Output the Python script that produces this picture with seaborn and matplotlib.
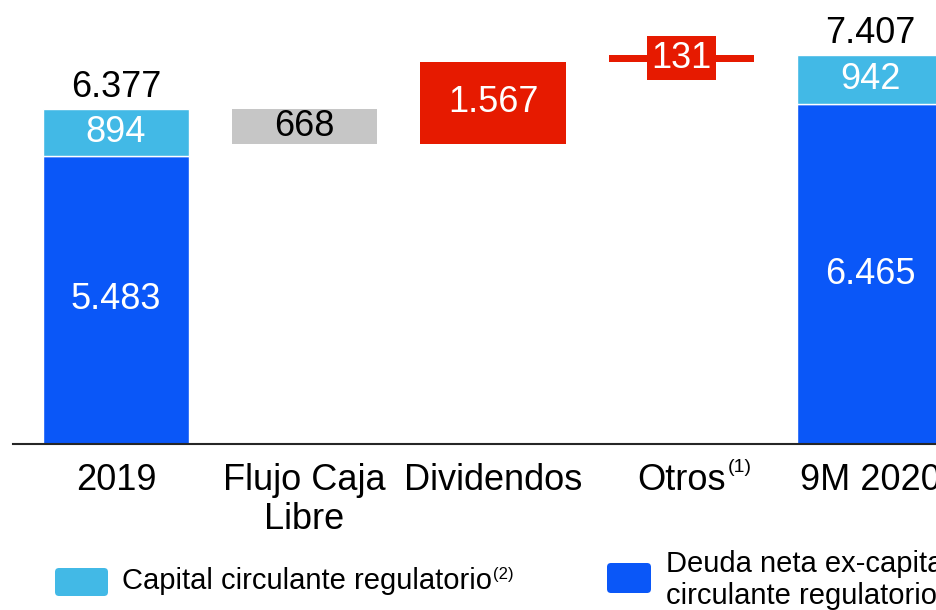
import matplotlib
matplotlib.use("Agg")
import matplotlib.pyplot as plt
import seaborn as sns
from matplotlib.patches import FancyBboxPatch
from matplotlib.transforms import IdentityTransform

# ---- data ----
categories = ["2019", "Flujo Caja\nLibre", "Dividendos", "Otros", "9M 2020"]
end_categories = ["2019", "9M 2020"]
deuda_ex_capital = [5483, 6465]
capital_circulante = [894, 942]
step_categories = ["Flujo Caja\nLibre", "Dividendos", "Otros"]
step_values = [-668, 1567, 131]
legend_labels = ["Capital circulante regulatorio", "Deuda neta ex-capital\ncirculante regulatorio"]

DARK = "#0A57F8"
LIGHT = "#42B9E6"
GREY = "#C6C6C6"
RED = "#E61A00"

def fmt(v):
    return f"{v:,}".replace(",", ".")

sns.set_theme(style="white")
plt.rcParams["font.family"] = ["Liberation Sans", "DejaVu Sans"]

W, H = 937, 610
fig = plt.figure(figsize=(W / 100, H / 100), dpi=100)
ax = fig.add_axes([13 / W, 166 / H, 924 / W, 444 / H])

BW = 0.77
common = dict(order=categories, saturation=1, width=BW, errorbar=None, ax=ax,
              edgecolor="white", linewidth=1)

# end bars (stacked)
for i, cat in enumerate(end_categories):
    sns.barplot(x=[cat], y=[deuda_ex_capital[i]], color=DARK, **common)
    sns.barplot(x=[cat], y=[capital_circulante[i]], bottom=deuda_ex_capital[i],
                color=LIGHT, **common)

# waterfall steps
running = deuda_ex_capital[0] + capital_circulante[0]
step_geom = []
for cat, v in zip(step_categories, step_values):
    bottom = min(running, running + v)
    height = abs(v)
    col = GREY if v < 0 else RED
    sns.barplot(x=[cat], y=[height], bottom=bottom, color=col,
                **{**common, "edgecolor": col, "linewidth": 0})
    step_geom.append((cat, bottom, height, v, col))
    running += v

ax.set_xlim(-0.5464, 4.3554)
ax.set_ylim(0, 8450)

FS = 26
# labels on end bars
for i, cat in enumerate(end_categories):
    x = categories.index(cat)
    d, c = deuda_ex_capital[i], capital_circulante[i]
    ax.text(x, d / 2, fmt(d), ha="center", va="center", color="white", fontsize=FS, zorder=5)
    ax.text(x, d + c / 2, fmt(c), ha="center", va="center", color="white", fontsize=FS, zorder=5)
    ax.annotate(fmt(d + c), xy=(x, d + c), xytext=(0, 3), textcoords="offset points",
                ha="center", va="bottom", color="black", fontsize=FS, zorder=5)

for cat, bottom, height, v, col in step_geom:
    x = categories.index(cat)
    txtcol = "black" if v < 0 else "white"
    kw = {}
    if height < 400:
        kw["bbox"] = dict(boxstyle="square,pad=0.12", fc=col, ec="none")
    ax.text(x, bottom + height / 2, fmt(abs(v)), ha="center", va="center",
            color=txtcol, fontsize=FS, zorder=5, **kw)

# axes styling
sns.despine(ax=ax, left=True)
ax.spines["bottom"].set_color("#262626")
ax.spines["bottom"].set_linewidth(1.5)
ax.spines["bottom"].set_zorder(6)
ax.set_yticks([])
ax.set_xlabel("")
ax.set_ylabel("")
ax.tick_params(axis="x", length=0, pad=13.5, labelsize=FS, colors="black")
for lbl in ax.get_xticklabels():
    lbl.set_linespacing(1.17)

# superscript on Otros
fig.canvas.draw()
lbl = ax.get_xticklabels()[categories.index("Otros")]
bb = lbl.get_window_extent()
fig.text((bb.x1 + 2) / W, (bb.y1 + 4) / H, "(1)", ha="left", va="top", fontsize=14, color="black")

# manual legend
LFS = 21
def box(x0, y0top, w, h, color):
    p = FancyBboxPatch((x0, H - y0top - h), w, h, boxstyle="round,pad=0,rounding_size=4",
                       fc=color, ec="none", transform=IdentityTransform())
    fig.add_artist(p)

box(55, 568, 53, 28, LIGHT)
box(607, 563, 44, 30, DARK)
t1 = fig.text(122 / W, (H - 581) / H, legend_labels[0], ha="left", va="center",
              fontsize=LFS, color="black")
fig.text(666 / W, (H - 580) / H, legend_labels[1], ha="left", va="center",
         fontsize=LFS, color="black", linespacing=1.2)
fig.canvas.draw()
bb1 = t1.get_window_extent()
fig.text((bb1.x1 + 1) / W, (bb1.y1 - 0.5) / H, "(2)", ha="left", va="top", fontsize=12, color="black")

fig.savefig("out.png", dpi=100)
